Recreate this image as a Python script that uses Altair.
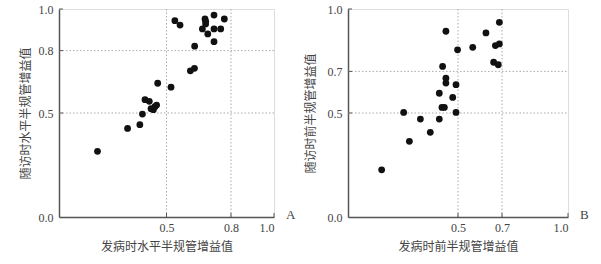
import altair as alt
import pandas as pd

# Panel A data
xA = [0.179, 0.319, 0.376, 0.388, 0.400, 0.420, 0.428, 0.439, 0.446, 0.454, 0.459, 0.521, 0.539, 0.563,
      0.611, 0.630, 0.631, 0.667, 0.679, 0.682, 0.682, 0.692, 0.721, 0.721, 0.721, 0.752, 0.769]
yA = [0.316, 0.426, 0.444, 0.495, 0.564, 0.556, 0.521, 0.516, 0.530, 0.538, 0.643, 0.624, 0.944, 0.923,
      0.703, 0.715, 0.821, 0.904, 0.952, 0.941, 0.928, 0.880, 0.971, 0.904, 0.843, 0.904, 0.952]
# Panel B data
xB = [0.153, 0.253, 0.279, 0.329, 0.374, 0.415, 0.415, 0.427, 0.438, 0.445, 0.445, 0.476, 0.491, 0.491,
      0.430, 0.445, 0.498, 0.567, 0.627, 0.662, 0.670, 0.683, 0.688, 0.688]
yB = [0.227, 0.503, 0.364, 0.471, 0.407, 0.471, 0.595, 0.527, 0.527, 0.667, 0.644, 0.575, 0.636, 0.503,
      0.724, 0.893, 0.804, 0.816, 0.885, 0.744, 0.824, 0.732, 0.832, 0.936]

ticksA = [0.0, 0.5, 0.8, 1.0]
ticksB = [0.0, 0.5, 0.7, 1.0]
gridA = [0.5, 0.8]
gridB = [0.5, 0.7]
innerTicksA = [0.5, 0.8, 1.0]
innerTicksB = [0.5, 0.7, 1.0]

xTitleA = "发病时水平半规管增益值"
yTitleA = "随访时水平半规管增益值"
xTitleB = "发病时前半规管增益值"
yTitleB = "随访时前半规管增益值"

FONT = "Liberation Serif, Noto Sans CJK SC"
AXC = "#555555"
TXT = "#444444"
H = 208


def panel(xs, ys, ticks, grid, inner, xt, yt, letter, W, ytp):
    pts = pd.DataFrame({"x": xs, "y": ys})
    g = pd.DataFrame({"v": grid})
    it = pd.DataFrame({"v": inner})
    xsc = alt.Scale(domain=[0, 1], nice=False)
    ysc = alt.Scale(domain=[0, 1], nice=False)
    xlabels = [t for t in ticks if t > 0]
    base_x = alt.X("x:Q", scale=xsc, title=xt,
                   axis=alt.Axis(values=xlabels, format=".1f", grid=False, ticks=False,
                                 domainColor=AXC, domainWidth=1.5, labelFont=FONT, labelFontSize=12,
                                 labelColor=TXT, labelPadding=5, titleFont=FONT, titleFontSize=12,
                                 titleColor=TXT, titleFontWeight="normal", titlePadding=8))
    base_y = alt.Y("y:Q", scale=ysc, title=yt,
                   axis=alt.Axis(values=ticks, format=".1f", grid=False, ticks=False,
                                 domainColor=AXC, domainWidth=1.5, labelFont=FONT, labelFontSize=12,
                                 labelColor=TXT, labelPadding=6, titleFont=FONT, titleFontSize=12,
                                 titleColor=TXT, titleFontWeight="normal", titlePadding=ytp))
    points = alt.Chart(pts).mark_circle(size=46, color="#111111", opacity=1).encode(x=base_x, y=base_y)
    vgrid = alt.Chart(g).mark_rule(color="#aaaaaa", strokeDash=[1.5, 2], strokeWidth=1).encode(
        x=alt.X("v:Q", scale=xsc), y=alt.value(0), y2=alt.value(H))
    hgrid = alt.Chart(g).mark_rule(color="#aaaaaa", strokeDash=[1.5, 2], strokeWidth=1).encode(
        y=alt.Y("v:Q", scale=ysc), x=alt.value(0), x2=alt.value(W))
    xt_ = alt.Chart(it).mark_rule(color=AXC, strokeWidth=1).encode(
        x=alt.X("v:Q", scale=xsc), y=alt.value(H), y2=alt.value(H - 4))
    yt_ = alt.Chart(it).mark_rule(color=AXC, strokeWidth=1).encode(
        y=alt.Y("v:Q", scale=ysc), x=alt.value(0), x2=alt.value(4))
    lab = alt.Chart(pd.DataFrame({"t": [letter]})).mark_text(
        font=FONT, fontSize=13, color=TXT, align="left", baseline="middle").encode(
        text="t:N", x=alt.value(W + 12), y=alt.value(H - 2))
    return alt.layer(vgrid, hgrid, xt_, yt_, points, lab).properties(width=W, height=H)


left = panel(xA, yA, ticksA, gridA, innerTicksA, xTitleA, yTitleA, "A", 215, 6)
right = panel(xB, yB, ticksB, gridB, innerTicksB, xTitleB, yTitleB, "B", 220, 10)

chart = alt.hconcat(left, right, spacing=74, bounds="flush").properties(
    padding={"left": 18, "top": 2, "right": 5, "bottom": 5}
).configure_view(stroke=None).configure(background="white")

chart.save("out.html", embed_options={"renderer": "svg", "actions": False})
